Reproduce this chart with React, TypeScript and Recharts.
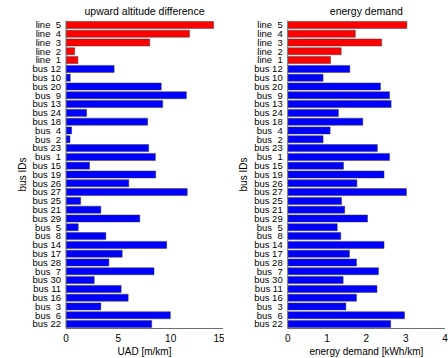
import { BarChart, Bar, XAxis, YAxis, Cell } from 'recharts'

const busIds = [
  'line 5', 'line 4', 'line 3', 'line 2', 'line 1',
  'bus 12', 'bus 10', 'bus 20', 'bus 9', 'bus 13', 'bus 24', 'bus 18', 'bus 4', 'bus 2', 'bus 23',
  'bus 1', 'bus 15', 'bus 19', 'bus 26', 'bus 27', 'bus 25', 'bus 21', 'bus 29', 'bus 5', 'bus 8',
  'bus 14', 'bus 17', 'bus 28', 'bus 7', 'bus 30', 'bus 11', 'bus 16', 'bus 3', 'bus 6', 'bus 22',
]

// upward altitude difference [m/km]
const uad = [
  14.1, 11.8, 8.0, 0.83, 1.14,
  4.6, 0.41, 9.1, 11.5, 9.24, 1.97, 7.8, 0.54, 0.38, 7.9,
  8.54, 2.25, 8.57, 6.0, 11.59, 1.4, 3.33, 7.05, 1.17, 3.81,
  9.62, 5.37, 4.1, 8.41, 2.7, 5.27, 5.94, 3.33, 9.97, 8.19,
]

// energy demand [kWh/km]
const energy = [
  3.03, 1.72, 2.39, 1.36, 1.09,
  1.58, 0.9, 2.36, 2.59, 2.63, 1.29, 1.91, 1.08, 0.9, 2.28,
  2.59, 1.42, 2.45, 1.76, 3.02, 1.37, 1.45, 2.03, 1.26, 1.35,
  2.45, 1.57, 1.75, 2.31, 1.41, 2.27, 1.75, 1.48, 2.97, 2.62,
]

const uadTicks = [0, 5, 10, 15]
const energyTicks = [0, 1, 2, 3, 4]

const FONT = '"Liberation Sans", Arial, Helvetica, sans-serif'
const AXIS = '#6e6e6e'

// matlab pads the id to two digits: "bus  9"
const padId = (s: string) => s.replace(/ (\d)$/, ' \u00A0$1')

interface PanelProps {
  title: string
  values: number[]
  ticks: number[]
  xLabel: string
  axisWidth: number
  rightGap: number
  yLabelOffset: number
}

function Panel({ title, values, ticks, xLabel, axisWidth, rightGap, yLabelOffset }: PanelProps) {
  const data = busIds.map((name, i) => ({ name, value: values[i] }))
  const max = ticks[ticks.length - 1]

  return (
    <div style={{ position: 'relative', width: 224, height: 358, fontFamily: FONT }}>
      <div
        style={{
          position: 'absolute',
          top: 5,
          left: axisWidth,
          width: 224 - axisWidth - rightGap,
          textAlign: 'center',
          fontSize: 10.5,
          lineHeight: '12px',
          color: '#000',
        }}
      >
        {title}
      </div>
      <BarChart
        width={224}
        height={358}
        data={data}
        layout="vertical"
        margin={{ top: 20.5, right: rightGap, bottom: 0, left: 0 }}
        barCategoryGap="10%"
        style={{ fontFamily: FONT }}
      >
        <XAxis
          type="number"
          domain={[0, max]}
          ticks={ticks}
          allowDataOverflow
          height={29.5}
          tickSize={0}
          tickMargin={6.5}
          axisLine={{ stroke: AXIS }}
          tickLine={false}
          tick={{ fill: '#000', fontSize: 10 }}
          label={{ value: xLabel, position: 'insideBottom', offset: 3.5, fill: '#000', fontSize: 10 }}
        />
        <XAxis
          xAxisId="top"
          type="number"
          orientation="top"
          domain={[0, max]}
          ticks={ticks}
          allowDataOverflow
          mirror
          height={0}
          tick={false}
          tickSize={3}
          axisLine={{ stroke: AXIS }}
          tickLine={{ stroke: AXIS }}
        />
        <YAxis
          type="category"
          dataKey="name"
          width={axisWidth}
          tickSize={0}
          tickMargin={5}
          interval={0}
          axisLine={{ stroke: AXIS }}
          tickLine={false}
          tick={{ fill: '#000', fontSize: 9.5 }}
          tickFormatter={padId}
          label={{
            value: 'bus IDs',
            angle: -90,
            position: 'insideLeft',
            offset: yLabelOffset,
            fill: '#000',
            fontSize: 10,
            style: { textAnchor: 'middle' },
          }}
        />
        <YAxis
          yAxisId="right"
          type="category"
          dataKey="name"
          orientation="right"
          mirror
          width={0}
          interval={0}
          tick={false}
          tickSize={3}
          axisLine={{ stroke: AXIS }}
          tickLine={{ stroke: AXIS }}
        />
        <Bar dataKey="value" stroke="#3a3a3a" strokeWidth={0.5} isAnimationActive={false}>
          {data.map((d) => (
            <Cell key={d.name} fill={d.name.startsWith('line') ? '#ff0000' : '#0000ff'} />
          ))}
        </Bar>
      </BarChart>
    </div>
  )
}

export default function App() {
  return (
    <div style={{ position: 'absolute', left: 0, top: 0, width: 448, height: 358, background: '#fff', display: 'flex' }}>
      <Panel
        title="upward altitude difference"
        values={uad}
        ticks={uadTicks}
        xLabel="UAD [m/km]"
        axisWidth={66}
        rightGap={1}
        yLabelOffset={22}
      />
      <Panel
        title="energy demand"
        values={energy}
        ticks={energyTicks}
        xLabel="energy demand [kWh/km]"
        axisWidth={63.7}
        rightGap={3}
        yLabelOffset={19}
      />
    </div>
  )
}
